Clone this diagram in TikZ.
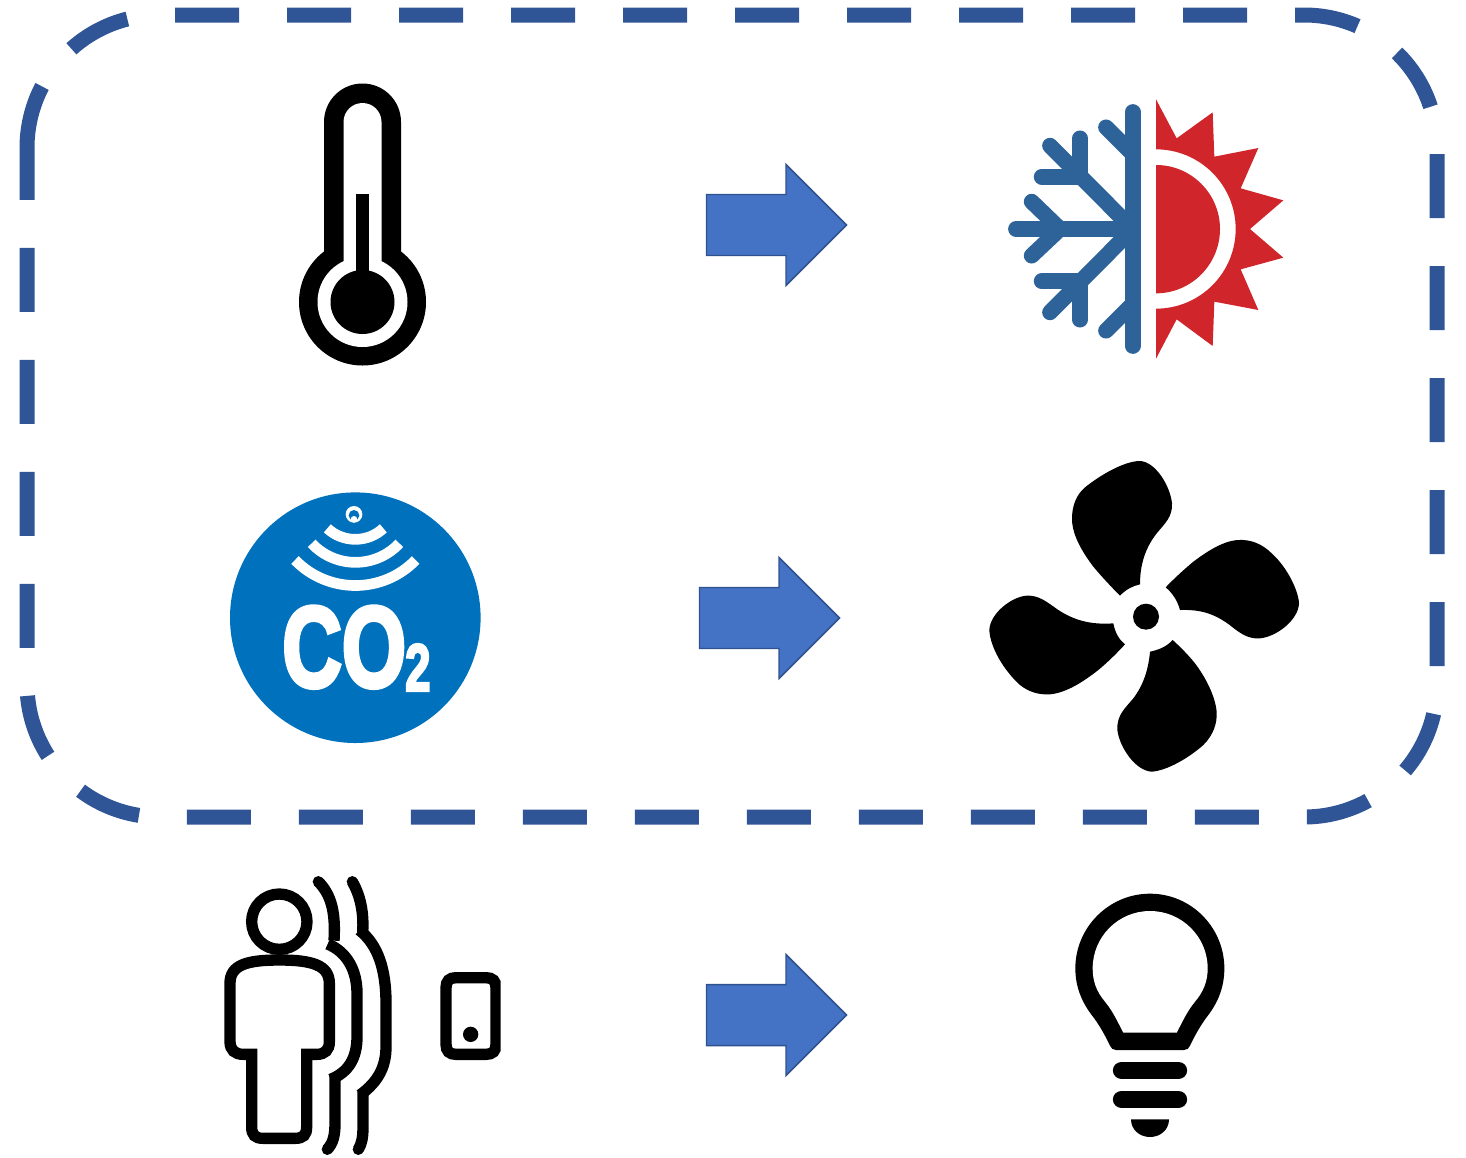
\documentclass[tikz,border=0pt]{standalone}
\usepackage{fontspec}
\usepackage{graphicx}
\newfontfamily\cofont[UprightFont=* Bold,FakeBold=4]{Liberation Sans}
\definecolor{frameblue}{HTML}{2F5597}
\definecolor{arrowfill}{HTML}{4472C4}
\definecolor{arrowline}{HTML}{2F528F}
\definecolor{snowblue}{HTML}{2E6399}
\definecolor{sunred}{HTML}{CF252B}
\definecolor{coblue}{HTML}{0071BC}
\tikzset{
  zoomed/.style={x=0.25pt,y=-0.25pt},
  frameline/.style={draw=frameblue,line width=11.25pt,dash pattern=on 48pt off 36pt,line cap=butt},
  snowline/.style={draw=snowblue,line width=11.8pt,line cap=round},
  waveline/.style={draw=black,line width=8.5pt,line cap=butt,line join=miter},
  coarc/.style={draw=white,line width=8pt,line cap=butt},
  blockarrow/.pic={\draw[fill=arrowfill,draw=arrowline,line width=1.1pt,line join=miter]
    (0.5,-30.5) -- (80,-30.5) -- (80,-60.5) -- (140.5,0) -- (80,60.5) -- (80,30.5) -- (0.5,30.5) -- cycle;}
}
\begin{document}
\begin{tikzpicture}[x=0.75pt,y=-0.75pt]
\useasboundingbox (0,0) rectangle (1466,1157);

% dashed frame
\draw[frameline] (27,148) .. controls (27,74.5) and (86.5,15) .. (160,15)
  -- (1304,15) .. controls (1377.5,15) and (1437,74.5) .. (1437,148)
  -- (1437,684) .. controls (1437,757.5) and (1377.5,817) .. (1304,817)
  -- (160,817) .. controls (86.5,817) and (27,757.5) .. (27,684) -- cycle;

% block arrows
\pic at (706,225) {blockarrow};
\pic at (699,618) {blockarrow};
\pic at (706,1015) {blockarrow};

% thermometer
\fill[black] (362.5,302) circle[radius=63.5];
\fill[black] (324,262) -- (324,122) .. controls (324,100.7) and (341.2,83.5) .. (362.5,83.5)
  .. controls (383.8,83.5) and (401,100.7) .. (401,122) -- (401,262) -- cycle;
\fill[white] (362.5,302) circle[radius=45];
\fill[white] (343.5,272) -- (343.5,122) .. controls (343.5,111.5) and (352,103) .. (362.5,103)
  .. controls (373,103) and (381.5,111.5) .. (381.5,122) -- (381.5,272) -- cycle;
\fill[black] (362.5,302) circle[radius=32];
\fill[black] (356,194) rectangle (369,280);

% snowflake and sun
\begin{scope}[shift={(980,80)},zoomed]
  \draw[snowline] (458,96) -- (458,798);
  \draw[snowline] (458,447) -- (108,447);
  \draw[snowline] (155,365) -- (240,447) -- (155,527);
  \draw[snowline] (458,447) -- (210,197);
  \draw[snowline] (300,175) -- (300,290) -- (185,290);
  \draw[snowline] (458,447) -- (210,697);
  \draw[snowline] (300,719) -- (300,604) -- (185,604);
  \draw[snowline] (378,142) -- (458,222);
  \draw[snowline] (378,752) -- (458,672);
  \fill[sunred] (528,58) -- (590,175) -- (698,97) -- (703,230) -- (835,204) -- (782,325)
    -- (910,361) -- (810,447) -- (910,533) -- (782,568) -- (835,690) -- (703,665)
    -- (698,798) -- (590,718) -- (528,836) -- (528,686)
    .. controls (660,686) and (767,579) .. (767,447)
    .. controls (767,315) and (660,208) .. (528,208) -- cycle;
  \fill[sunred] (528,255) .. controls (634,255) and (720,341) .. (720,447)
    .. controls (720,553) and (634,640) .. (528,640) -- cycle;
\end{scope}

% CO2 badge
\fill[coblue] (355.3,617.7) circle[radius=125.3];
\begin{scope}[shift={(210,480)},zoomed]
  \draw[coarc] (255,240) .. controls (354,342) and (518,342) .. (617,240);
  \draw[coarc] (305,190) .. controls (376,266) and (497,266) .. (568,190);
  \draw[coarc] (352,145) .. controls (399,189) and (473,189) .. (520,145);
  \fill[white] (432,103) circle[radius=25];
  \fill[coblue] (432,106) circle[radius=16];
  \fill[white] (432,118) circle[radius=10];
  \node[anchor=base west,inner sep=0pt,text=white] (co2) at (216,620)
    {\scalebox{.72}[1]{\fontsize{86}{86}\selectfont\cofont CO\kern-1pt\raisebox{-3pt}{\scalebox{.95}[1]{\fontsize{50}{50}\selectfont 2}}}};
\end{scope}

% fan
\begin{scope}[shift={(970,450)},zoomed]
  \fill[black] (528,500) circle[radius=39];
  \fill[black] (450,437) .. controls (468,418) and (488,408) .. (510,403)
    .. controls (510,345) and (525,295) .. (560,250)
    .. controls (585,220) and (608,200) .. (606,160)
    .. controls (600,105) and (555,35) .. (510,33)
    .. controls (465,33) and (395,72) .. (345,112)
    .. controls (318,135) and (305,170) .. (306,210)
    .. controls (308,260) and (340,310) .. (370,350)
    .. controls (395,380) and (425,412) .. (450,437) -- cycle;
  \fill[black] (587,412) .. controls (606,428) and (622,450) .. (630,480)
    .. controls (690,478) and (730,490) .. (775,522)
    .. controls (805,545) and (830,568) .. (870,565)
    .. controls (920,560) and (985,510) .. (987,460)
    .. controls (985,420) and (950,350) .. (905,310)
    .. controls (875,280) and (840,268) .. (805,270)
    .. controls (760,272) and (710,305) .. (670,335)
    .. controls (640,360) and (610,388) .. (587,412) -- cycle;
  \fill[black] (465,583) .. controls (448,570) and (435,548) .. (430,520)
    .. controls (360,525) and (310,510) .. (262,478)
    .. controls (230,455) and (205,435) .. (170,437)
    .. controls (125,440) and (60,490) .. (58,540)
    .. controls (60,590) and (100,660) .. (150,705)
    .. controls (175,725) and (205,735) .. (240,733)
    .. controls (290,728) and (340,695) .. (385,660)
    .. controls (415,635) and (440,610) .. (465,583) -- cycle;
  \fill[black] (608,570) .. controls (590,590) and (565,600) .. (540,605)
    .. controls (535,660) and (520,705) .. (490,745)
    .. controls (465,775) and (440,795) .. (442,840)
    .. controls (448,890) and (495,962) .. (545,965)
    .. controls (590,962) and (655,925) .. (700,885)
    .. controls (730,855) and (742,820) .. (740,785)
    .. controls (735,735) and (705,680) .. (675,640)
    .. controls (655,615) and (630,590) .. (608,570) -- cycle;
\end{scope}

% person with waves and phone
\begin{scope}[shift={(210,870)},zoomed]
  \draw[waveline] (208,155) circle[radius=83];
  \draw[waveline] (208,270) .. controls (110,270) and (60,285) .. (60,340)
    -- (60,515) .. controls (60,540) and (75,553) .. (100,553)
    -- (125,553) -- (125,770) .. controls (125,795) and (135,805) .. (160,805)
    -- (255,805) .. controls (280,805) and (290,795) .. (290,770)
    -- (290,553) -- (320,553) .. controls (345,553) and (358,540) .. (358,515)
    -- (358,340) .. controls (358,285) and (305,270) .. (208,270) -- cycle;
  % inner wave
  \fill[black] (325,35) circle[radius=17];
  \draw[waveline] (325,35) .. controls (360,70) and (378,120) .. (372,212);
  \draw[waveline] (353,222) .. controls (410,245) and (441,300) .. (441,370)
    -- (441,500) .. controls (441,565) and (415,607) .. (362,628);
  \draw[waveline] (375,618) -- (375,760) .. controls (375,800) and (368,820) .. (352,838);
  \fill[black] (352,838) circle[radius=17];
  % outer wave
  \fill[black] (427,35) circle[radius=17];
  \draw[waveline] (427,35) .. controls (450,75) and (462,125) .. (458,188);
  \draw[waveline] (448,180) .. controls (505,225) and (528,300) .. (528,400)
    -- (528,530) .. controls (528,590) and (505,635) .. (450,675);
  \draw[waveline] (459,665) -- (459,770) .. controls (459,800) and (456,820) .. (445,838);
  \fill[black] (445,838) circle[radius=17];
  \begin{scope}
    \clip (680,290) rectangle (872,590);
    \draw[waveline] (708,353) .. controls (708,333) and (718,323) .. (738,323)
      -- (828,323) .. controls (848,323) and (858,333) .. (858,353)
      -- (858,523) .. controls (858,543) and (848,553) .. (828,553)
      -- (738,553) .. controls (718,553) and (708,543) .. (708,523) -- cycle;
  \end{scope}
  \fill[black] (782,493) circle[radius=23];
\end{scope}

% light bulb
\begin{scope}[shift={(1060,880)},zoomed]
  \fill[black] (168,510) -- (372,510) .. controls (382,510) and (386,505) .. (390,497)
    .. controls (405,465) and (425,430) .. (445,405)
    .. controls (475,365) and (493,320) .. (493,265)
    .. controls (493,142) and (393,41) .. (270,41)
    .. controls (147,41) and (46,142) .. (46,265)
    .. controls (46,320) and (65,365) .. (95,405)
    .. controls (115,430) and (135,465) .. (150,497)
    .. controls (154,505) and (158,510) .. (168,510) -- cycle;
  \fill[white] (190,458) -- (350,458) .. controls (365,430) and (380,395) .. (405,365)
    .. controls (430,335) and (443,305) .. (443,265)
    .. controls (443,170) and (365,93) .. (270,93)
    .. controls (175,93) and (98,170) .. (98,265)
    .. controls (98,305) and (110,335) .. (135,365)
    .. controls (160,395) and (175,430) .. (190,458) -- cycle;
  \draw[black,line width=13.2pt,line cap=round] (185,571) -- (355,571);
  \draw[black,line width=13.2pt,line cap=round] (185,658) -- (355,658);
  \fill[black] (213,718) -- (327,718) .. controls (327,750) and (300,771) .. (270,771)
    .. controls (240,771) and (213,750) .. (213,718) -- cycle;
\end{scope}
\end{tikzpicture}
\end{document}
